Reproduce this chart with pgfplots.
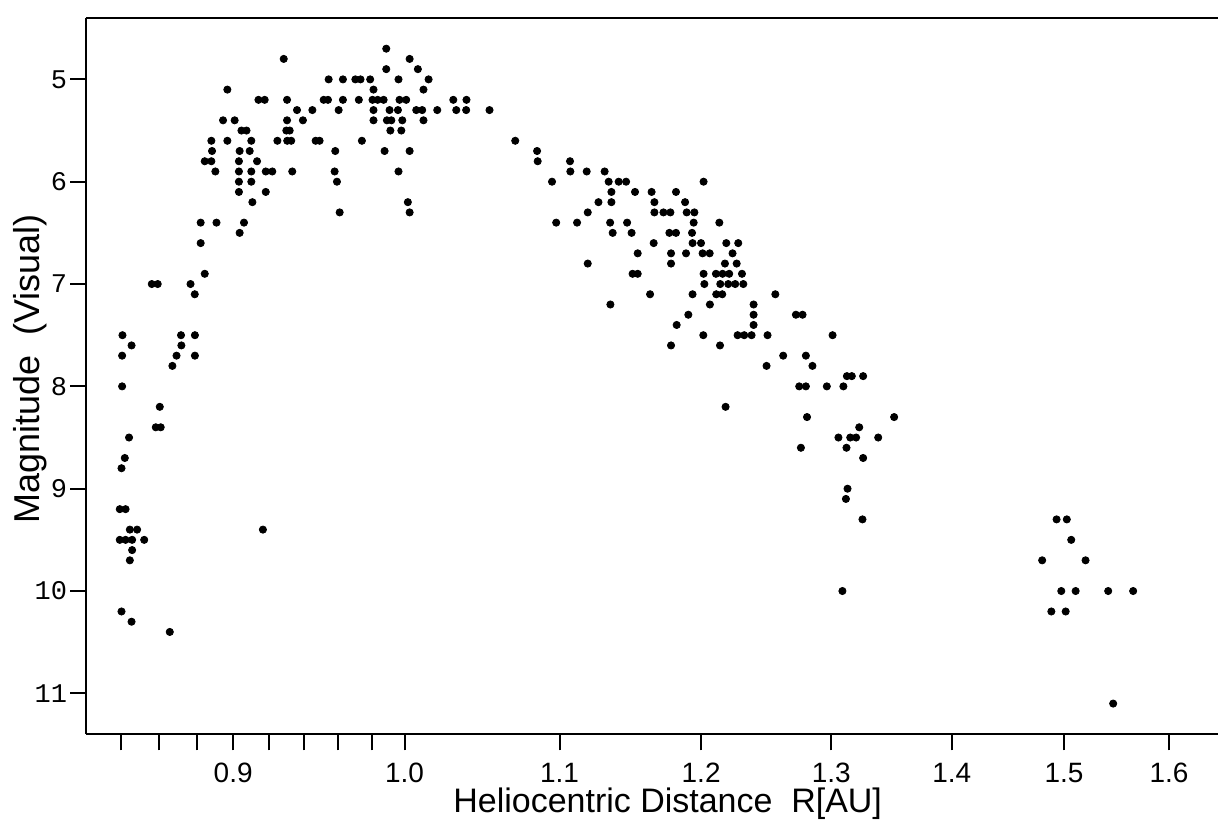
\documentclass[border=0pt]{standalone}
\usepackage{fontspec}
\setmainfont{Liberation Sans}
\newfontfamily\ticksmono{Liberation Mono}
\usepackage{pgfplots}
\pgfplotsset{compat=1.18}
\usepackage{pgfplotstable}

% visual magnitude vs heliocentric distance
\pgfplotstableread{
R m
0.8844 6.9
0.8561 7.0
0.8592 7.0
0.8767 7.0
0.8790 7.1
0.8408 7.5
0.8716 7.5
0.8791 7.5
0.8455 7.6
0.8718 7.6
0.8406 7.7
0.8692 7.7
0.8791 7.7
0.8670 7.8
0.8406 8.0
0.8603 8.2
0.8582 8.4
0.8608 8.4
0.8442 8.5
0.8420 8.7
0.8403 8.8
0.8394 9.2
0.8424 9.2
0.8446 9.4
0.8484 9.4
0.9166 9.4
0.8394 9.5
0.8424 9.5
0.8458 9.5
0.8521 9.5
0.8458 9.6
0.8446 9.7
0.8403 10.2
0.8455 10.3
0.8656 10.4
0.9284 4.8
0.9544 5.0
0.9628 5.0
0.9702 5.0
0.8968 5.1
0.9141 5.2
0.9176 5.2
0.9303 5.2
0.9515 5.2
0.9540 5.2
0.9628 5.2
0.9723 5.2
0.9360 5.3
0.9449 5.3
0.9603 5.3
0.8944 5.4
0.9008 5.4
0.9303 5.4
0.9394 5.4
0.9046 5.5
0.9074 5.5
0.9299 5.5
0.9318 5.5
0.8880 5.6
0.8968 5.6
0.9101 5.6
0.9248 5.6
0.9304 5.6
0.9327 5.6
0.9468 5.6
0.9491 5.6
0.8884 5.7
0.9036 5.7
0.9092 5.7
0.9583 5.7
0.8844 5.8
0.8880 5.8
0.9032 5.8
0.9133 5.8
0.8902 5.9
0.9032 5.9
0.9101 5.9
0.9182 5.9
0.9219 5.9
0.9333 5.9
0.9579 5.9
0.9032 6.0
0.9101 6.0
0.9593 6.0
0.9032 6.1
0.9182 6.1
0.9107 6.2
0.9609 6.3
0.8822 6.4
0.8908 6.4
0.9060 6.4
0.9036 6.5
0.8822 6.6
0.9888 4.7
1.0031 4.8
0.9888 4.9
1.0082 4.9
0.9733 5.0
0.9791 5.0
0.9963 5.0
1.0149 5.0
0.9811 5.1
1.0117 5.1
0.9805 5.2
0.9836 5.2
0.9872 5.2
0.9969 5.2
1.0010 5.2
1.0304 5.2
1.0388 5.2
0.9811 5.3
0.9908 5.3
0.9959 5.3
1.0072 5.3
1.0109 5.3
1.0203 5.3
1.0323 5.3
1.0386 5.3
1.0536 5.3
0.9811 5.4
0.9892 5.4
0.9919 5.4
0.9986 5.4
1.0117 5.4
0.9913 5.5
0.9980 5.5
0.9741 5.6
0.9878 5.7
1.0031 5.7
0.9963 5.9
1.0020 6.2
1.0031 6.3
1.0704 5.6
1.0849 5.7
1.0853 5.8
1.1071 5.8
1.1073 5.9
1.1185 5.9
1.1309 5.9
1.0949 6.0
1.1337 6.0
1.1407 6.0
1.1459 6.0
1.2018 6.0
1.1356 6.1
1.1522 6.1
1.1640 6.1
1.1816 6.1
1.1266 6.2
1.1356 6.2
1.1660 6.2
1.1882 6.2
1.1192 6.3
1.1660 6.3
1.1725 6.3
1.1775 6.3
1.1894 6.3
1.1950 6.3
1.0977 6.4
1.1119 6.4
1.1347 6.4
1.1466 6.4
1.1945 6.4
1.2135 6.4
1.1365 6.5
1.1498 6.5
1.1768 6.5
1.1816 6.5
1.1933 6.5
1.1655 6.6
1.1937 6.6
1.1999 6.6
1.2187 6.6
1.2277 6.6
1.1541 6.7
1.1780 6.7
1.1889 6.7
1.2011 6.7
1.2063 6.7
1.2234 6.7
1.1192 6.8
1.1780 6.8
1.2177 6.8
1.2265 6.8
1.1505 6.9
1.1541 6.9
1.2018 6.9
1.2110 6.9
1.2159 6.9
1.2209 6.9
1.2305 6.9
1.2024 7.0
1.2142 7.0
1.2202 7.0
1.2254 7.0
1.2315 7.0
1.1629 7.1
1.1937 7.1
1.2112 7.1
1.2157 7.1
1.2560 7.1
1.1349 7.2
1.2065 7.2
1.2393 7.2
1.1906 7.3
1.2393 7.3
1.2720 7.3
1.2772 7.3
1.1821 7.4
1.2393 7.4
1.2016 7.5
1.2272 7.5
1.2322 7.5
1.2378 7.5
1.2500 7.5
1.3010 7.5
1.1780 7.6
1.2140 7.6
1.2621 7.7
1.2798 7.7
1.2492 7.8
1.2850 7.8
1.3125 7.9
1.3165 7.9
1.3257 7.9
1.2746 8.0
1.2798 8.0
1.2964 8.0
1.3097 8.0
1.2182 8.2
1.2807 8.3
1.3512 8.3
1.3225 8.4
1.3057 8.5
1.3152 8.5
1.3200 8.5
1.3380 8.5
1.2759 8.6
1.3122 8.6
1.3257 8.7
1.3130 9.0
1.3117 9.1
1.3251 9.3
1.3089 10.0
1.4932 9.3
1.5025 9.3
1.5067 9.5
1.4800 9.7
1.5200 9.7
1.4975 10.0
1.5107 10.0
1.5413 10.0
1.5651 10.0
1.4883 10.2
1.5015 10.2
1.5460 11.1
}\comet

\begin{document}
\begin{tikzpicture}
\begin{axis}[
    scale only axis,
    width=566.5pt, height=358.5pt,
    xmode=log,
    xmin=0.8221, xmax=1.6487,
    ymin=4.4, ymax=11.4,
    y dir=reverse,
    axis x line=box, axis y line=left,
    axis line style={-, line width=1.2pt},
    tick align=outside,
    xtick pos=bottom, ytick pos=left,
    xtick={0.9,1.0,1.1,1.2,1.3,1.4,1.5,1.6},
    xticklabels={0.9,1.0,1.1,1.2,1.3,1.4,1.5,1.6},
    minor xtick={0.84,0.86,0.88,0.92,0.94,0.96,0.98},
    ytick={5,6,7,8,9,10,11},
    yticklabels={5,6,7,8,9,10,11},
    major tick length=8pt, minor tick length=8pt,
    every tick/.style={black, line width=1pt},
    /pgf/number format/assume math mode=true,
    xticklabel style={font=\fontsize{14}{16}\selectfont, yshift=-3pt},
    yticklabel style={font=\ticksmono\fontsize{13.5}{15}\selectfont, xshift=2pt},
    xlabel={Heliocentric Distance\ \ R[AU]},
    ylabel={Magnitude\ \ (Visual)},
    xlabel style={font=\fontsize{17}{20}\selectfont,
        at={(axis description cs:0.514,0)}, anchor=center, yshift=-35pt},
    ylabel style={font=\fontsize{18}{20}\selectfont,
        at={(axis description cs:-0.0494,0.51)}, anchor=center},
    clip=false,
]
\addplot[only marks, mark=*, mark size=1.8pt, black] table[x=R, y=m] {\comet};
\path (rel axis cs:0,0) ++(-43pt,-44pt);
\path (rel axis cs:1,1) ++(0pt,9pt);
\end{axis}
\end{tikzpicture}
\end{document}
